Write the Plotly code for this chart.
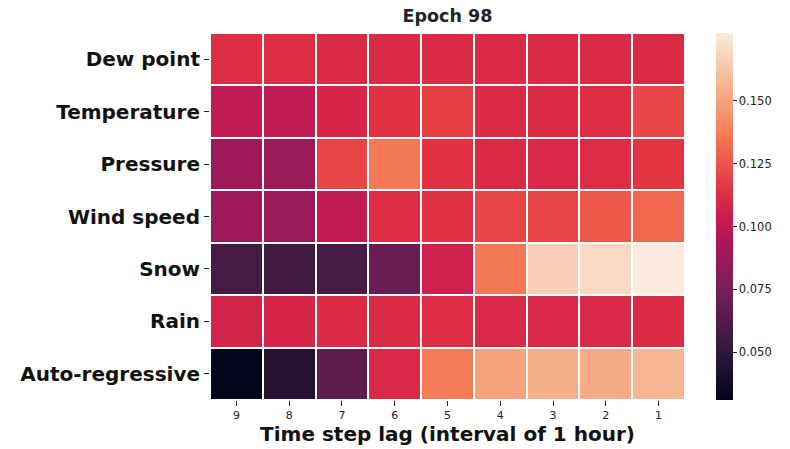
import plotly.graph_objects as go

lags = ["9", "8", "7", "6", "5", "4", "3", "2", "1"]
features = ["Dew point", "Temperature", "Pressure", "Wind speed", "Snow", "Rain", "Auto-regressive"]

dew_point = [0.112, 0.112, 0.111, 0.111, 0.111, 0.111, 0.111, 0.111, 0.111]
temperature = [0.101, 0.101, 0.109, 0.114, 0.118, 0.111, 0.111, 0.112, 0.121]
pressure = [0.088, 0.087, 0.120, 0.136, 0.114, 0.111, 0.110, 0.112, 0.115]
wind_speed = [0.088, 0.087, 0.101, 0.112, 0.114, 0.120, 0.121, 0.126, 0.131]
snow = [0.058, 0.056, 0.058, 0.070, 0.106, 0.136, 0.166, 0.170, 0.177]
rain = [0.108, 0.109, 0.111, 0.111, 0.112, 0.110, 0.110, 0.110, 0.111]
auto_regressive = [0.031, 0.045, 0.066, 0.110, 0.137, 0.150, 0.154, 0.153, 0.157]

z = [dew_point, temperature, pressure, wind_speed, snow, rain, auto_regressive]

rocket = [
    [0.0, "#03051a"],
    [1/7, "#35193e"],
    [2/7, "#701f57"],
    [3/7, "#ad1759"],
    [0.5, "#cb1b4f"],
    [4/7, "#e13342"],
    [5/7, "#f37651"],
    [6/7, "#f6b48f"],
    [1.0, "#faebdd"],
]

fig = go.Figure(go.Heatmap(
    z=z, x=lags, y=features,
    colorscale=rocket,
    xgap=2, ygap=2,
    colorbar=dict(
        thickness=17, len=1.0, lenmode="fraction", x=1.065, xanchor="left",
        y=0.5, yanchor="middle", ypad=0, xpad=0, outlinewidth=0,
        tickvals=[0.05, 0.075, 0.1, 0.125, 0.15],
        ticktext=["0.050", "0.075", "0.100", "0.125", "0.150"],
        ticks="outside", ticklen=4, tickcolor="#222",
        tickfont=dict(family="DejaVu Sans", size=11.5, color="#222"),
    ),
))

fig.update_layout(
    width=790, height=449,
    margin=dict(l=210, r=105, t=33, b=49),
    paper_bgcolor="white", plot_bgcolor="white",
    title=dict(text="<b>Epoch 98</b>", x=(210 + 475 / 2) / 790, xanchor="center",
               y=1 - 16 / 449, yanchor="middle",
               font=dict(family="DejaVu Sans", size=17.5, color="#222")),
    xaxis=dict(
        type="category", showgrid=False, zeroline=False, showline=False, automargin=False,
        ticks="outside", ticklen=5, tickcolor="#222",
        tickfont=dict(family="DejaVu Sans", size=11, color="#222"),
        title=dict(text="<b>Time step lag (interval of 1 hour)</b>", standoff=4,
                   font=dict(family="DejaVu Sans", size=20, color="#111")),
    ),
    yaxis=dict(
        type="category", autorange="reversed", showgrid=False, zeroline=False, showline=False,
        automargin=False,
        ticks="outside", ticklen=5, tickcolor="#222",
        tickfont=dict(family="DejaVu Sans", size=20, color="#111"),
    ),
)
fig.update_yaxes(ticktext=["<b>" + f + "</b>" for f in features], tickvals=features)

fig.write_html(
    "out.html",
    config={"displayModeBar": False},
    post_script="document.body.style.margin='0px';document.body.style.overflow='hidden';",
)
